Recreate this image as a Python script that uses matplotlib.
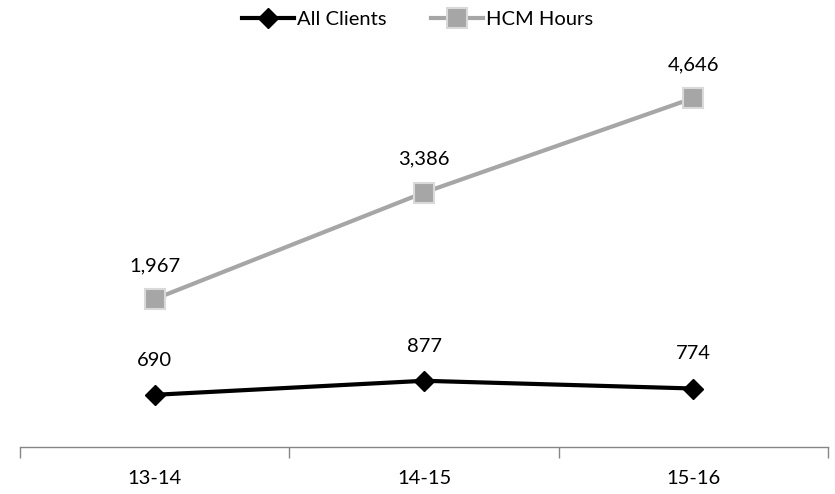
import matplotlib.pyplot as plt

plt.rcParams['font.family'] = ['Lato', 'DejaVu Sans']

years = ["13-14", "14-15", "15-16"]
all_clients = [690, 877, 774]
hcm_hours = [1967, 3386, 4646]

fig = plt.figure(figsize=(8.35, 4.94), dpi=100)
ax = fig.add_axes([0.024, 0.096, 0.9676, 0.7593])

xs = range(len(years))
ax.plot(xs, all_clients, color="#000000", lw=3, marker="D", ms=10,
        mfc="#000000", mec="#000000", label="All Clients", zorder=3)
ax.plot(xs, hcm_hours, color="#A6A6A6", lw=3, marker="s", ms=14,
        mfc="#A6A6A6", mec="#D9D9D9", mew=1.5, label="HCM Hours", zorder=3)

for x, v in zip(xs, all_clients):
    ax.annotate(f"{v:,}", (x, v), xytext=(0, 25), textcoords="offset points",
                ha="center", va="center", fontsize=14.5)
for x, v in zip(xs, hcm_hours):
    ax.annotate(f"{v:,}", (x, v), xytext=(0, 24), textcoords="offset points",
                ha="center", va="center", fontsize=14.5)

ax.set_xlim(-0.5, 2.5)
ax.set_ylim(0, 5000)
ax.set_xticks([-0.5, 0.5, 1.5, 2.5])
ax.set_xticklabels([])
ax.set_xticks(list(xs), minor=True)
ax.set_xticklabels(years, minor=True, fontsize=14.5)
ax.tick_params(axis="x", which="major", length=8, color="#868686", width=1)
ax.tick_params(axis="x", which="minor", length=0, pad=17)
ax.set_yticks([])
for s in ["top", "right", "left"]:
    ax.spines[s].set_visible(False)
ax.spines["bottom"].set_color("#868686")
ax.spines["bottom"].set_linewidth(1)

fig.legend(loc="upper center", bbox_to_anchor=(0.5, 1.015), ncol=2, frameon=False,
           fontsize=14.5, handlelength=2.6, columnspacing=2.2, handletextpad=0.15)

plt.savefig("out.png", dpi=100)
